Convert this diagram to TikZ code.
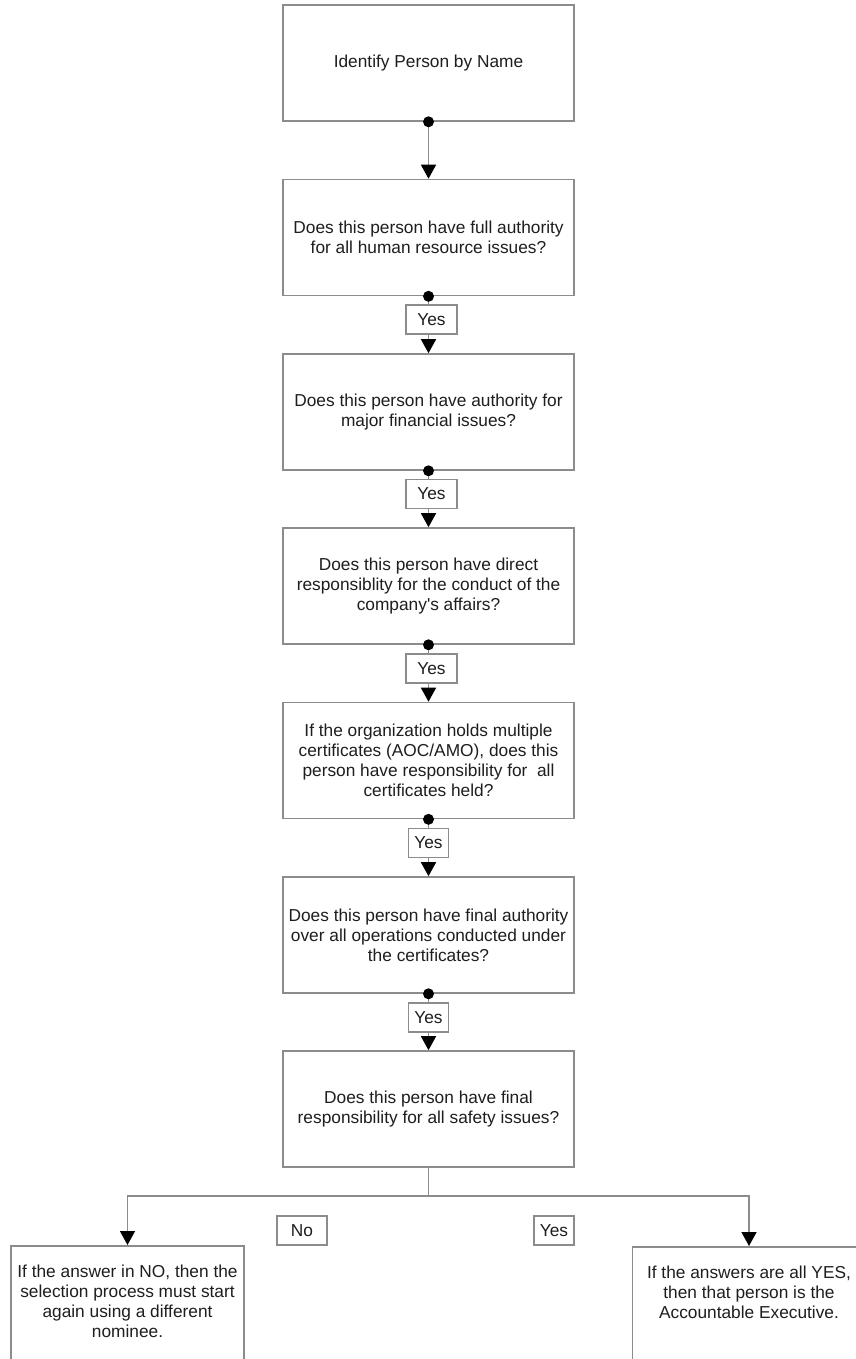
\documentclass[tikz,border=0pt]{standalone}
\usepackage{fontspec}
\setmainfont{Liberation Sans}
\usetikzlibrary{arrows.meta}
\definecolor{boxgray}{HTML}{8C8C8C}
\definecolor{ink}{HTML}{1E1E1E}
\begin{document}
\begin{tikzpicture}[x=1pt,y=-1pt,
  every node/.style={font=\fontsize{17.3}{20}\selectfont, text=ink},
  qbox/.style={draw=boxgray, line width=1.6pt, fill=white, minimum width=291pt, minimum height=116pt, inner sep=0pt, align=center},
  obox/.style={draw=boxgray, line width=1.6pt, fill=white, minimum width=233pt, minimum height=116pt, inner sep=0pt},
  otext/.style={anchor=north, inner sep=0pt, align=center},
  ylab/.style={draw=boxgray, line width=1.3pt, fill=white, minimum height=29pt, inner sep=0pt},
  wire/.style={draw=boxgray, line width=1.5pt},
  conn/.style={wire, -{Triangle[width=15pt,length=14pt,fill=black,color=black]}},
  dot/.style={fill=black}]
\useasboundingbox (0,0) rectangle (856,1359);
\clip (0,0) rectangle (856,1359);
\node[qbox] (b1) at (428.5,63) {Identify Person by Name};
\node[qbox] (b2) at (428.5,237.5) {Does this person have full authority\\for all human resource issues?};
\node[qbox] (b3) at (428.5,412) {Does this person have authority for\\major financial issues?};
\node[qbox] (b4) at (428.5,586) {Does this person have direct\\responsiblity for the conduct of the\\company\textquotesingle s affairs?};
\node[qbox] (b5) at (428.5,760.5) {If the organization holds multiple\\certificates (AOC/AMO), does this\\person have responsibility for\ \ all\\certificates held?};
\node[qbox] (b6) at (428.5,935) {Does this person have final authority\\over all operations conducted under\\the certificates?};
\node[qbox] (b7) at (428.5,1109) {Does this person have final\\responsibility for all safety issues?};
\foreach \a/\b in {b1/b2,b2/b3,b3/b4,b4/b5,b5/b6,b6/b7}{
  \draw[conn] (\a.south) -- (\b.north);
  \fill[dot] (\a.south) circle (5.5pt);
}
\node[ylab, minimum width=51pt] (y1) at (431.5,319.5) {Yes};
\node[ylab, minimum width=51pt] (y2) at (431.5,494) {Yes};
\node[ylab, minimum width=51pt] (y3) at (431.5,668.5) {Yes};
\node[ylab, minimum width=40pt] (y4) at (428.5,843) {Yes};
\node[ylab, minimum width=40pt] (y5) at (428.5,1017.5) {Yes};
\coordinate (split) at (428.5,1196);
\node[obox, anchor=north] (nobox) at (127.5,1245) {};
\node[obox, anchor=north] (yesbox) at (749,1246) {};
\node[otext] (notext) at (127.5,1264.5) {If the answer in NO, then the\\selection process must start\\again using a different\\nominee.};
\node[otext] (yestext) at (749,1265.5) {If the answers are all YES,\\then that person is the\\Accountable Executive.};
\draw[wire] (b7.south) -- (split);
\draw[conn] (split) -| (nobox.north);
\draw[conn] (split) -| (yesbox.north);
\node[ylab, minimum width=50pt] (nolab) at (302,1230.5) {No};
\node[ylab, minimum width=40pt] (yeslab) at (554,1230.5) {Yes};
\end{tikzpicture}
\end{document}
